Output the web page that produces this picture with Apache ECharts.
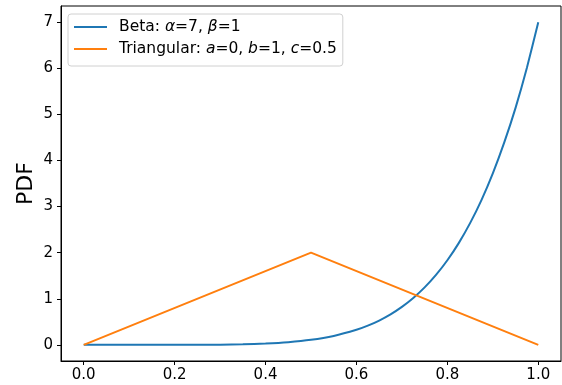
<!DOCTYPE html>
<html>
<head>
<meta charset="utf-8">
<script src="https://cdn.jsdelivr.net/npm/echarts@6/dist/echarts.min.js"></script>
<style>
  html, body { margin: 0; padding: 0; background: #fff; }
  #main { width: 562px; height: 385px; }
</style>
</head>
<body>
<div id="main"></div>
<script>
// values
var betaX = [0, 0.05, 0.1, 0.15, 0.2, 0.25, 0.3, 0.35, 0.4, 0.45, 0.5, 0.55, 0.6, 0.625, 0.65, 0.675,
  0.7, 0.725, 0.75, 0.775, 0.8, 0.825, 0.85, 0.875, 0.9, 0.925, 0.95, 0.975, 1.0];
var betaY = [0, 0, 0, 0, 0.0004, 0.002, 0.005, 0.013, 0.029, 0.058, 0.109, 0.194, 0.327, 0.417, 0.528, 0.662,
  0.824, 1.017, 1.246, 1.517, 1.835, 2.207, 2.64, 3.14, 3.72, 4.385, 5.14, 6.01, 7.0];
var triX = [0, 0.5, 1.0];
var triY = [0, 2, 0];
var xTicks = [0, 0.2, 0.4, 0.6, 0.8, 1.0];
var yTicks = [0, 1, 2, 3, 4, 5, 6, 7];

var font = 'DejaVu Sans';

function pairs(xs, ys) {
  var out = [];
  for (var i = 0; i < xs.length; i++) out.push([xs[i], ys[i]]);
  return out;
}

var myChart = echarts.init(document.getElementById('main'), null, { renderer: 'canvas' });

var legendRich = {
  f: { fontFamily: font, fontSize: 15.5, color: '#000', padding: [0, 0, 0, 7] },
  n: { fontFamily: font, fontSize: 15.5, color: '#000' },
  i: { fontFamily: font, fontSize: 15.5, color: '#000', fontStyle: 'italic' }
};

var option = {
  animation: false,
  textStyle: { fontFamily: font },
  grid: {
    left: 61, right: 1, top: 6, bottom: 24,
    show: true, borderColor: '#000', borderWidth: 1
  },
  legend: {
    orient: 'vertical',
    left: 68, top: 14,
    itemWidth: 33, itemHeight: 14, itemGap: 6,
    padding: [5, 6, 9, 5],
    backgroundColor: '#fff',
    borderColor: '#d0d0d0', borderWidth: 1, borderRadius: 3,
    itemStyle: { opacity: 0 },
    lineStyle: { width: 2 },
    textStyle: { fontFamily: font, fontSize: 15.5, color: '#000', rich: legendRich },
    formatter: function (name) {
      if (name === 'beta') return '{f|Beta: }{i|α}{n|=7, }{i|β}{n|=1}';
      return '{f|Triangular: }{i|a}{n|=0, }{i|b}{n|=1, }{i|c}{n|=0.5}';
    },
    data: ['beta', 'tri']
  },
  xAxis: {
    type: 'value',
    min: -0.05, max: 1.05,
    axisLine: { show: true, onZero: false, lineStyle: { color: '#000', width: 1 } },
    axisTick: { show: true, customValues: xTicks, length: 4, lineStyle: { color: '#000' } },
    axisLabel: {
      customValues: xTicks, margin: 7, fontSize: 15, color: '#000', fontFamily: font,
      formatter: function (v) { return v.toFixed(1); }
    },
    splitLine: { show: false }
  },
  yAxis: {
    type: 'value',
    min: -0.35, max: 7.35,
    name: 'PDF',
    nameLocation: 'middle',
    nameGap: 24,
    nameMoveOverlap: false,
    nameTextStyle: { fontSize: 22, color: '#000', fontFamily: font },
    axisLine: { show: true, onZero: false, lineStyle: { color: '#000', width: 1 } },
    axisTick: { show: true, customValues: yTicks, length: 4, lineStyle: { color: '#000' } },
    axisLabel: {
      customValues: yTicks, margin: 8, fontSize: 15, color: '#000', fontFamily: font
    },
    splitLine: { show: false }
  },
  series: [
    {
      name: 'beta',
      type: 'line',
      symbol: 'none',
      smooth: 0.2,
      color: '#1f77b4',
      lineStyle: { width: 2, color: '#1f77b4' },
      data: pairs(betaX, betaY)
    },
    {
      name: 'tri',
      type: 'line',
      symbol: 'none',
      color: '#ff7f0e',
      lineStyle: { width: 2, color: '#ff7f0e' },
      data: pairs(triX, triY)
    }
  ]
};

myChart.setOption(option);
</script>
</body>
</html>
